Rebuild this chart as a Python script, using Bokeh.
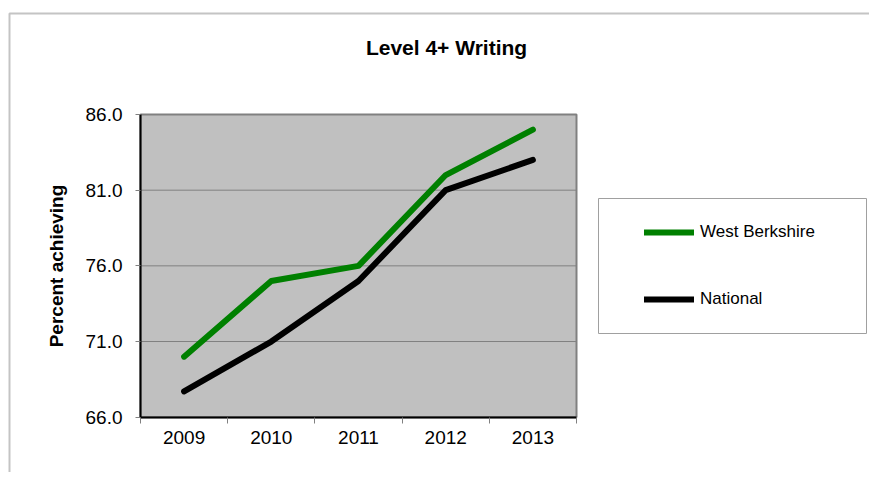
from bokeh.plotting import figure
from bokeh.models import (Range1d, FixedTicker, NumeralTickFormatter, Legend, LegendItem,
                          BoxAnnotation, Label, LinearAxis)
from bokeh.embed import file_html
from bokeh.resources import INLINE

# ---- data ----
years = ["2009", "2010", "2011", "2012", "2013"]
west_berkshire = [70.0, 75.0, 76.0, 82.0, 85.0]
national = [67.7, 71.0, 75.0, 81.0, 83.0]
y_ticks = [66, 71, 76, 81, 86]
series_names = ["West Berkshire", "National"]
title_text = "Level 4+ Writing"
y_label = "Percent achieving"

FONT = "Liberation Sans"

# ---- layout (pixels) ----
W, H = 869, 472
PL, PR, PT, PB = 140.0, 576.0, 114.0, 416.7   # plot area edges
n = len(years)
ymin, ymax = y_ticks[0], y_ticks[-1]
sx = (PR - PL) / n
sy = (PB - PT) / (ymax - ymin)


def px2x(px):
    return (px - PL) / sx


def py2y(py):
    return ymin + (PB - py) / sy


x_pos = [i + 0.5 for i in range(n)]
boundaries = list(range(n + 1))

p = figure(width=W, height=H, output_backend="svg", toolbar_location=None, title=None,
           x_range=Range1d(px2x(0), px2x(W)), y_range=Range1d(py2y(H), py2y(0)),
           x_axis_type=None, y_axis_type=None, min_border=0)
p.outline_line_color = None
p.background_fill_color = "white"
p.border_fill_color = "white"

# outer chart border
p.add_layout(BoxAnnotation(left=px2x(9), right=px2x(W + 30), top=py2y(13), bottom=py2y(H + 30),
                           fill_color=None, line_color="#C4C4C4", line_alpha=1.0,
                           line_width=2, level="underlay"))
# plot area
p.add_layout(BoxAnnotation(left=0, right=n, bottom=ymin, top=ymax,
                           fill_color="#C0C0C0", fill_alpha=1.0,
                           line_color="#808080", line_alpha=1.0, line_width=2,
                           level="underlay"))
# gridlines
p.segment(x0=[0] * len(y_ticks), x1=[n] * len(y_ticks), y0=y_ticks, y1=y_ticks,
          line_color="#808080", line_width=1)

r1 = p.line(x_pos, west_berkshire, line_color="#008000", line_width=6,
            line_cap="round", line_join="round")
r2 = p.line(x_pos, national, line_color="black", line_width=6,
            line_cap="round", line_join="round")

# x axis: labels at category centres, tick marks at boundaries
xa = LinearAxis(fixed_location=ymin, bounds=(0, n),
                ticker=FixedTicker(ticks=x_pos, minor_ticks=boundaries))
xa.major_label_overrides = {x: y for x, y in zip(x_pos, years)}
xa.major_tick_out = 0
xa.major_tick_in = 0
xa.minor_tick_out = 6
xa.minor_tick_in = 0
xa.minor_tick_line_color = "#808080"
xa.axis_line_color = "black"
xa.axis_line_width = 2
xa.major_label_standoff = 8
xa.major_label_text_font = FONT
xa.major_label_text_font_size = "19px"
xa.major_label_text_color = "black"
p.add_layout(xa, "below")

ya = LinearAxis(fixed_location=0, bounds=(ymin, ymax), ticker=FixedTicker(ticks=y_ticks),
                formatter=NumeralTickFormatter(format="0.0"))
ya.major_tick_out = 5
ya.major_tick_in = 0
ya.minor_tick_out = 0
ya.minor_tick_in = 0
ya.major_tick_line_color = "#808080"
ya.axis_line_color = "black"
ya.axis_line_width = 2
ya.major_label_standoff = 13
ya.major_label_text_font = FONT
ya.major_label_text_font_size = "19px"
ya.major_label_text_color = "black"
ya.axis_label = y_label
ya.axis_label_text_font = FONT
ya.axis_label_text_font_size = "19px"
ya.axis_label_text_font_style = "bold"
ya.axis_label_text_color = "black"
ya.axis_label_standoff = 16
p.add_layout(ya, "left")

# legend box
p.add_layout(BoxAnnotation(left=px2x(598), right=px2x(866), top=py2y(198), bottom=py2y(333),
                           fill_color="white", fill_alpha=1.0,
                           line_color="#A0A0A0", line_alpha=1.0, line_width=1,
                           level="underlay"))

legend = Legend(items=[LegendItem(label=series_names[0], renderers=[r1]),
                       LegendItem(label=series_names[1], renderers=[r2])],
                location=(644, H - 309), orientation="vertical", padding=0, margin=0,
                spacing=47, glyph_width=50, glyph_height=20, label_height=20,
                label_standoff=6, label_text_font=FONT, label_text_font_size="17px",
                label_text_color="black",
                border_line_alpha=0, background_fill_alpha=0)
p.add_layout(legend)

p.add_layout(Label(x=px2x(446), y=py2y(47), text=title_text,
                   text_align="center", text_baseline="middle", text_font=FONT,
                   text_font_size="21px", text_font_style="bold", text_color="black"))

open("out.html", "w").write(file_html(p, INLINE))
